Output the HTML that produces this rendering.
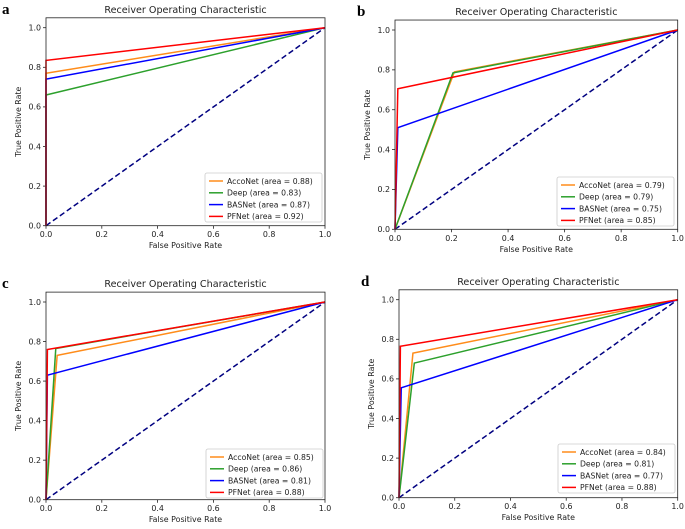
<!DOCTYPE html>
<html><head><meta charset="utf-8"><style>
body{margin:0;background:#fff}
svg text{font-family:"DejaVu Sans","Liberation Sans",sans-serif;fill:#222}
</style></head><body>
<svg id="fig" width="685" height="524" xmlns="http://www.w3.org/2000/svg"></svg>
<script>
const seriesNames=["AccoNet","Deep","BASNet","PFNet"];
const seriesColors=["#ff8c1a","#2ca02c","#0000ff","#ff0000"];
const panelLetters=["a","b","c","d"];
const ticks=[0,0.2,0.4,0.6,0.8,1.0];
const aucA=["0.88","0.83","0.87","0.92"];
const aucB=["0.79","0.79","0.75","0.85"];
const aucC=["0.85","0.86","0.81","0.88"];
const aucD=["0.84","0.81","0.77","0.88"];
const fprA=[[0,0,1],[0,0,1],[0,0,1],[0,0,1]];
const tprA=[[0,0.77,1],[0,0.66,1],[0,0.74,1],[0,0.835,1]];
const fprB=[[0,0.21,1],[0,0.205,1],[0,0.01,1],[0,0.01,1]];
const tprB=[[0,0.79,1],[0,0.785,1],[0,0.51,1],[0,0.705,1]];
const fprC=[[0,0.04,1],[0,0.035,1],[0,0.005,1],[0,0.005,1]];
const tprC=[[0,0.73,1],[0,0.765,1],[0,0.63,1],[0,0.76,1]];
const fprD=[[0,0.05,1],[0,0.055,1],[0,0.008,1],[0,0.005,1]];
const tprD=[[0,0.73,1],[0,0.68,1],[0,0.555,1],[0,0.765,1]];

const panels=[
 {x0:46,x1:325,y0:225.7,y1:27.7,auc:aucA,fpr:fprA,tpr:tprA,lg:[205,173]},
 {x0:395,x1:677.7,y0:229.3,y1:30,auc:aucB,fpr:fprB,tpr:tprB,lg:[557,177]},
 {x0:46,x1:325,y0:499.7,y1:302,auc:aucC,fpr:fprC,tpr:tprC,lg:[206,449]},
 {x0:399,x1:677.7,y0:497.7,y1:299.7,auc:aucD,fpr:fprD,tpr:tprD,lg:[558,444]}
];
const NS="http://www.w3.org/2000/svg";
const svg=document.getElementById('fig');
function mk(tag,attrs,parent,txt){const e=document.createElementNS(NS,tag);for(const k in attrs)e.setAttribute(k,attrs[k]);if(txt!==undefined)e.textContent=txt;(parent||svg).appendChild(e);return e;}
panels.forEach((p,pi)=>{
 const g=mk('g',{});
 
 
 const sx=v=>p.x0+v*(p.x1-p.x0);
 const sy=v=>p.y0+v*(p.y1-p.y0);
 const top=sy(1.05);
 const L=mk('text',{x:p.x0-44+(pi%2?6:0),y:top-4,'font-weight':'bold','font-size':'15',style:'font-family:"Liberation Serif",serif;fill:#000'},g,panelLetters[pi]);
 
 
 const T=mk('text',{x:(p.x0+p.x1)/2,y:top-5,'text-anchor':'middle','font-size':'9.6'},g,'Receiver Operating Characteristic');
 
 
 ticks.forEach(t=>{
  mk('line',{x1:sx(t),x2:sx(t),y1:p.y0,y2:p.y0+3,stroke:'#222','stroke-width':0.8},g);
  const xt=mk('text',{x:sx(t),y:p.y0+11.5,'text-anchor':'middle','font-size':'7.9'},g,t.toFixed(1));
  
  
  mk('line',{x1:p.x0-3,x2:p.x0,y1:sy(t),y2:sy(t),stroke:'#222','stroke-width':0.8},g);
  const yt=mk('text',{x:p.x0-5,y:sy(t)+2.8,'text-anchor':'end','font-size':'7.9'},g,t.toFixed(1));
  
  
 });
 const xl=mk('text',{x:(p.x0+p.x1)/2,y:p.y0+22.5,'text-anchor':'middle','font-size':'7.9'},g,'False Positive Rate');
 
 
 const yc=(p.y0+top)/2, yx=p.x0-25;
 const yl=mk('text',{x:yx,y:yc,'text-anchor':'middle','font-size':'7.9',transform:`rotate(-90 ${yx} ${yc})`},g,'True Positive Rate');
 
 
 const d=mk('line',{x1:sx(0),y1:sy(0),x2:sx(1),y2:sy(1),stroke:'#000080','stroke-width':1.5,'stroke-dasharray':'5.5,3'},g);
 
 
 seriesNames.forEach((n,si)=>{
  const pts=p.fpr[si].map((f,k)=>sx(f).toFixed(2)+','+sy(p.tpr[si][k]).toFixed(2)).join(' ');
  const pl=mk('polyline',{points:pts,fill:'none',stroke:seriesColors[si],'stroke-width':1.5},g);
  
  
 });
 mk('rect',{x:p.x0,y:top,width:p.x1-p.x0,height:p.y0-top,fill:'none',stroke:'#222','stroke-width':0.8},g);
 const lg=mk('g',{},g);
 
 
 mk('rect',{x:p.lg[0],y:p.lg[1],width:117,height:49,rx:2,fill:'#fff','fill-opacity':0.85,stroke:'#ccc','stroke-width':0.8},lg);
 seriesNames.forEach((n,si)=>{
  const yy=p.lg[1]+8+si*11.8;
  const e=mk('g',{},lg);
  
  
  mk('line',{x1:p.lg[0]+4,x2:p.lg[0]+18,y1:yy,y2:yy,stroke:seriesColors[si],'stroke-width':1.5},e);
  mk('text',{x:p.lg[0]+22,y:yy+2.8,'font-size':'7.7'},e,n+' (area = '+p.auc[si]+')');
 });
});
</script>
</body></html>
